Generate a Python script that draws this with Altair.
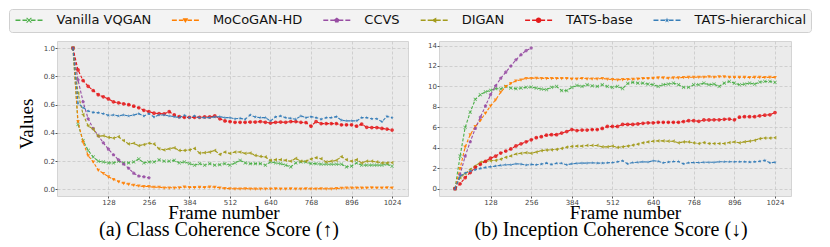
import altair as alt
import pandas as pd

FRAMES = list(range(16, 1025, 16))
X_TICKS = [128, 256, 384, 512, 640, 768, 896, 1024]

SERIES = ["Vanilla VQGAN", "MoCoGAN-HD", "CCVS", "DIGAN", "TATS-base", "TATS-hierarchical"]
COLORS = ["#4daf4a", "#ff7f00", "#984ea3", "#a39b1c", "#e41a1c", "#377eb8"]

# ---------- (a) Class Coherence Score ----------
CCS_VQGAN = [1.0, 0.46, 0.346, 0.276, 0.23, 0.20, 0.195, 0.188, 0.188, 0.20, 0.188, 0.188, 0.195, 0.216, 0.188, 0.195,
             0.195, 0.21, 0.2, 0.2, 0.206, 0.188,
             0.195, 0.183, 0.172, 0.183, 0.172, 0.183, 0.172, 0.176, 0.183, 0.172, 0.188, 0.206, 0.188, 0.183, 0.183,
             0.183, 0.172, 0.195, 0.188, 0.183, 0.172, 0.16,
             0.188, 0.195, 0.195, 0.183, 0.183, 0.179, 0.179, 0.179, 0.179, 0.179, 0.16, 0.165, 0.188, 0.172, 0.172,
             0.172, 0.172, 0.172, 0.179, 0.165]
CCS_MOCO = [1.0, 0.48, 0.334, 0.24, 0.195, 0.137, 0.114, 0.09, 0.072, 0.056, 0.044, 0.037, 0.03, 0.025, 0.021, 0.021,
            0.016, 0.016, 0.012, 0.012, 0.012, 0.013,
            0.018, 0.015, 0.015, 0.017, 0.015, 0.018, 0.017, 0.012, 0.008, 0.006, 0.005, 0.005, 0.006, 0.005, 0.004,
            0.005, 0.005, 0.005, 0.006, 0.005, 0.005, 0.006,
            0.005, 0.005, 0.006, 0.005, 0.005, 0.006, 0.005, 0.005, 0.007, 0.01, 0.011, 0.011, 0.012, 0.011, 0.012,
            0.013, 0.012, 0.012, 0.013, 0.012]
CCS_CCVS = [1.0, 0.775, 0.62, 0.50, 0.43, 0.38, 0.33, 0.285, 0.245, 0.21, 0.18, 0.15, 0.115, 0.095, 0.09, 0.083]
CCS_DIGAN = [1.0, 0.68, 0.53, 0.45, 0.427, 0.376, 0.38, 0.369, 0.364, 0.373, 0.346, 0.322, 0.327, 0.31, 0.318, 0.327,
             0.322, 0.288, 0.28, 0.288, 0.295, 0.276,
             0.276, 0.28, 0.29, 0.258, 0.26, 0.265, 0.276, 0.248, 0.265, 0.255, 0.265, 0.265, 0.255, 0.258, 0.241,
             0.234, 0.23, 0.206, 0.211, 0.211, 0.206, 0.2,
             0.22, 0.2, 0.2, 0.215, 0.225, 0.218, 0.195, 0.2, 0.206, 0.232, 0.211, 0.2, 0.211, 0.188, 0.2,
             0.2, 0.195, 0.188, 0.188, 0.19]
CCS_BASE = [1.0, 0.845, 0.77, 0.73, 0.70, 0.67, 0.655, 0.64, 0.62, 0.613, 0.606, 0.60, 0.589, 0.578, 0.56, 0.55,
            0.54, 0.537, 0.535, 0.55, 0.527, 0.515,
            0.51, 0.51, 0.51, 0.51, 0.513, 0.513, 0.52, 0.50, 0.485, 0.48, 0.475, 0.475, 0.475, 0.477, 0.477,
            0.48, 0.475, 0.47, 0.475, 0.477, 0.475, 0.48,
            0.48, 0.475, 0.473, 0.448, 0.48, 0.466, 0.466, 0.466, 0.466, 0.457, 0.457, 0.457, 0.448, 0.462, 0.44,
            0.438, 0.438, 0.432, 0.427, 0.42]
CCS_HIER = [1.0, 0.61, 0.58, 0.555, 0.545, 0.543, 0.536, 0.524, 0.527, 0.52, 0.527, 0.52, 0.527, 0.536, 0.52, 0.536,
            0.513, 0.527, 0.527, 0.52, 0.515, 0.508,
            0.525, 0.508, 0.52, 0.508, 0.508, 0.508, 0.513, 0.515, 0.508, 0.508, 0.50, 0.503, 0.497, 0.527, 0.513,
            0.508, 0.508, 0.485, 0.513, 0.52, 0.508, 0.503,
            0.497, 0.52, 0.508, 0.515, 0.508, 0.497, 0.508, 0.508, 0.515, 0.49, 0.485, 0.485, 0.485, 0.508, 0.508,
            0.50, 0.50, 0.48, 0.517, 0.508]

# ---------- (b) Inception Coherence Score ----------
ICS_VQGAN = [0.02, 3.2, 6.0, 7.5, 8.74, 9.2, 9.47, 9.63, 9.79, 9.76, 10.0, 9.85, 9.79, 9.85, 9.92, 9.95,
             9.85, 9.75, 9.7, 9.92, 10.0, 9.6,
             9.6, 9.92, 10.1, 10.0, 10.17, 10.07, 10.0, 10.17, 10.0, 9.92, 10.0, 9.8, 10.3, 10.4, 10.33,
             10.33, 10.23, 10.17, 10.0, 10.17, 10.23, 10.33,
             10.17, 9.92, 9.92, 10.17, 10.17, 10.33, 10.17, 10.23, 10.0, 10.33, 10.49, 10.33, 10.17, 10.23, 10.33,
             10.23, 10.43, 10.49, 10.49, 10.4]
ICS_MOCO = [0.02, 2.0, 4.1, 5.3, 6.1, 6.7, 7.4, 8.1, 8.7, 9.45, 10.0, 10.3, 10.55, 10.65, 10.8, 10.8,
            10.82, 10.8, 10.78, 10.8, 10.78, 10.8,
            10.8, 10.75, 10.75, 10.8, 10.75, 10.75, 10.75, 10.78, 10.72, 10.68, 10.65, 10.68, 10.7, 10.72, 10.75,
            10.78, 10.8, 10.82, 10.85, 10.85, 10.82, 10.85,
            10.85, 10.88, 10.9, 10.9, 10.92, 10.92, 10.95, 10.92, 10.95, 10.95, 10.92, 10.9, 10.9, 10.9, 10.88,
            10.9, 10.9, 10.88, 10.9, 10.88]
ICS_CCVS = [0.02, 1.4, 3.2, 4.6, 5.9, 7.0, 8.1, 9.2, 10.05, 10.8, 11.4, 12.0, 12.6, 13.1, 13.5, 13.75]
ICS_DIGAN = [0.02, 1.1, 1.5, 1.9, 2.25, 2.6, 2.7, 2.75, 2.78, 2.9, 3.09, 3.22, 3.41, 3.48, 3.54, 3.48,
             3.6, 3.73, 3.79, 3.82, 3.86, 3.95,
             4.08, 4.15, 4.18, 4.18, 4.24, 4.24, 4.24, 4.11, 4.11, 4.18, 4.05, 4.11, 4.18, 4.27, 4.37,
             4.5, 4.59, 4.66, 4.69, 4.69, 4.66, 4.66,
             4.5, 4.59, 4.59, 4.5, 4.43, 4.53, 4.43, 4.43, 4.43, 4.43, 4.53, 4.59, 4.5, 4.6, 4.66,
             4.75, 4.91, 4.97, 4.97, 5.0]
ICS_BASE = [0.02, 0.5, 1.1, 1.6, 2.1, 2.4, 2.7, 3.0, 3.2, 3.5, 3.7, 3.9, 4.2, 4.4, 4.6, 4.8,
            5.0, 5.1, 5.25, 5.3, 5.3, 5.45,
            5.6, 5.8, 5.7, 5.75, 5.75, 5.8, 5.8, 5.9, 6.1, 6.1, 6.1, 6.3, 6.3, 6.3, 6.35,
            6.4, 6.45, 6.45, 6.5, 6.5, 6.5, 6.5,
            6.5, 6.58, 6.66, 6.66, 6.6, 6.73, 6.73, 6.75, 6.75, 6.8, 6.82, 6.75, 7.0, 7.05, 7.05,
            7.05, 7.14, 7.2, 7.24, 7.45]
ICS_HIER = [0.02, 1.24, 1.55, 1.72, 1.88, 2.0, 2.1, 2.17, 2.23, 2.3, 2.36, 2.36, 2.45, 2.42, 2.33, 2.39,
            2.36, 2.42, 2.52, 2.39, 2.5, 2.5,
            2.36, 2.45, 2.5, 2.52, 2.52, 2.55, 2.52, 2.52, 2.55, 2.58, 2.65, 2.75, 2.45, 2.58, 2.6,
            2.65, 2.62, 2.75, 2.7, 2.55, 2.62, 2.68,
            2.68, 2.45, 2.55, 2.58, 2.58, 2.6, 2.6, 2.6, 2.65, 2.65, 2.65, 2.65, 2.65, 2.65, 2.62,
            2.65, 2.7, 2.78, 2.55, 2.6]

CCS = [CCS_VQGAN, CCS_MOCO, CCS_CCVS, CCS_DIGAN, CCS_BASE, CCS_HIER]
ICS = [ICS_VQGAN, ICS_MOCO, ICS_CCVS, ICS_DIGAN, ICS_BASE, ICS_HIER]

# ---------- marker geometry ----------
X_PTS = [(-1, -0.72), (-0.72, -1), (0, -0.28), (0.72, -1), (1, -0.72), (0.28, 0), (1, 0.72), (0.72, 1),
         (0, 0.28), (-0.72, 1), (-1, 0.72), (-0.28, 0)]
TRI_DOWN = [(-1, -0.75), (1, -0.75), (0, 1)]
PENT = [(0, -1), (0.951, -0.309), (0.588, 0.809), (-0.588, 0.809), (-0.951, -0.309)]
TRI_LEFT = [(-1, 0), (0.75, -1), (0.75, 1)]
STAR = [(0, -1), (0.225, -0.309), (0.951, -0.309), (0.363, 0.118), (0.588, 0.809), (0, 0.382),
        (-0.588, 0.809), (-0.363, 0.118), (-0.951, -0.309), (-0.225, -0.309)]


def poly(pts, s=1.0):
    return "M" + "L".join(f"{x * s:.3f},{y * s:.3f}" for x, y in pts) + "Z"


def circ(s=1.0):
    return f"M{s:.3f},0A{s:.3f},{s:.3f},0,1,1,{-s:.3f},0A{s:.3f},{s:.3f},0,1,1,{s:.3f},0Z"


MARKER_FN = [lambda s: poly(X_PTS, s), lambda s: poly(TRI_DOWN, s), lambda s: poly(PENT, s),
             lambda s: poly(TRI_LEFT, s), circ, lambda s: poly(STAR, s)]
PLOT_SHAPES = [f(1.0) for f in MARKER_FN]

DASH_T = 0.15
DASHES = [(-3.0, -1.9), (-1.45, -0.45), (0.45, 1.45), (1.9, 3.0)]
DASH_PATH = "".join(f"M{a},{-DASH_T}L{b},{-DASH_T}L{b},{DASH_T}L{a},{DASH_T}Z" for a, b in DASHES)
LEGEND_SHAPES = [DASH_PATH + f(0.62) for f in MARKER_FN]

FONT = "DejaVu Sans"
SERIF = "Liberation Serif"
PLOT_H = 155


def panel(values, ydomain, yticks, yfmt, ytitle, caption, width, xtitle_x, cap_dx, with_legend):
    xs = alt.X("frame:Q", scale=alt.Scale(domain=[-34.4, 1074.4], nice=False, zero=False),
               axis=alt.Axis(values=X_TICKS, format="d", title="Frame number", titleX=xtitle_x, titleY=22.5,
                             titleBaseline="alphabetic", titleAlign="center"))
    yaxis_kw = dict(values=yticks, format=yfmt)
    if ytitle:
        yaxis_kw.update(title=ytitle, titleX=-24.3, titleY=PLOT_H / 2 + 5, titleBaseline="alphabetic",
                        titleAlign="center")
    else:
        yaxis_kw.update(title=None)
    ys = alt.Y("value:Q", scale=alt.Scale(domain=ydomain, nice=False, zero=False), axis=alt.Axis(**yaxis_kw))
    layers = []
    for name, color, shape, vals in zip(SERIES, COLORS, PLOT_SHAPES, values):
        df = pd.DataFrame({"frame": FRAMES[:len(vals)], "value": vals, "series": name})
        base = alt.Chart(df).encode(x=xs, y=ys)
        layers.append(base.mark_line(color=color, strokeDash=[3, 1.8], strokeWidth=1.1))
        layers.append(base.mark_point(filled=True, shape=shape, color=color, size=14, opacity=0.85))
    if with_legend:
        leg = alt.Legend(title=None, orient="none", legendX=-48, legendY=-32, direction="horizontal",
                         symbolSize=81, symbolOffset=9, labelOffset=21, columnPadding=18.4,
                         labelFont=FONT, labelFontSize=13, labelColor="#111111", labelLimit=300,
                         fillColor="#f3f3f3", strokeColor="#d0d0d0", cornerRadius=3, padding=4.5,
                         symbolStrokeWidth=0, symbolOpacity=1)
        ldf = pd.DataFrame({"series": SERIES, "frame": [16] * 6, "value": [values[0][0]] * 6})
        layers.append(alt.Chart(ldf).mark_point(filled=True, opacity=0).encode(
            x=xs, y=ys,
            color=alt.Color("series:N", scale=alt.Scale(domain=SERIES, range=COLORS), legend=leg),
            shape=alt.Shape("series:N", scale=alt.Scale(domain=SERIES, range=LEGEND_SHAPES), legend=leg),
        ))
    return alt.layer(*layers).properties(
        width=width, height=PLOT_H,
        title=alt.TitleParams(caption, orient="bottom", anchor="middle", frame="group", dx=cap_dx, offset=13,
                              font=SERIF, fontSize=20, fontWeight="normal", color="black",
                              baseline="alphabetic"),
    )


left = panel(CCS, [-0.046, 1.05], [0.0, 0.2, 0.4, 0.6, 0.8, 1.0], ".1f", "Values",
             "(a) Class Coherence Score (\u2191)", 351, 166.5, -13.5, True)
right = panel(ICS, [-0.69, 14.44], [0, 2, 4, 6, 8, 10, 12, 14], "d", None,
              "(b) Inception Coherence Score (\u2193)", 352, 186, -3.9, False)

chart = alt.hconcat(left, right, spacing=18).properties(
    padding={"left": 0, "top": 0, "right": 0, "bottom": 0}
).configure_view(
    fill="#ebebeb", stroke="#d4d4d4", strokeWidth=1
).configure_axis(
    grid=True, gridColor="#c8c8c8", gridDash=[3, 2], gridWidth=0.8, domain=False,
    ticks=True, tickColor="#555555", tickSize=2, labelFont=FONT, labelFontSize=7, labelColor="#444444",
    labelPadding=0.5, titleFont=SERIF, titleFontSize=19, titleFontWeight="normal", titleColor="black"
)

chart.save("out.html", embed_options={"renderer": "svg", "actions": False})
